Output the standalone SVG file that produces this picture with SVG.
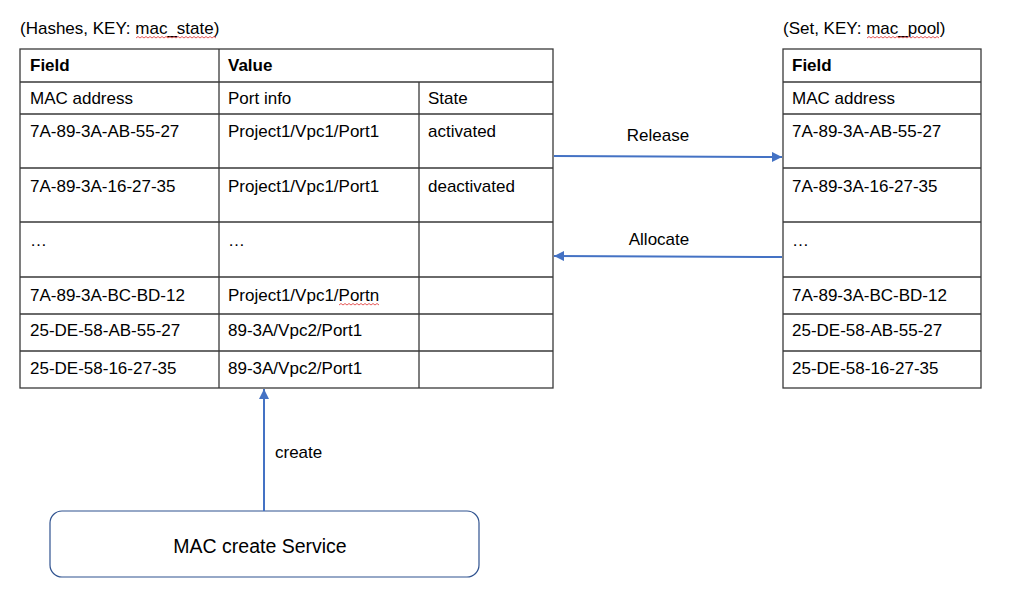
<svg xmlns="http://www.w3.org/2000/svg" width="1019" height="590" viewBox="0 0 1019 590">
<defs>
<style>
text{font-family:"Liberation Sans",Arial,sans-serif;font-size:17px;fill:#000}
.b{font-weight:bold}
.grid{stroke:#3a3a3a;stroke-width:1.3;fill:none}
.conn{stroke:#4472C4;stroke-width:2;fill:none}
.sq{stroke:#e03030;stroke-width:0.8;fill:none}
</style>
<marker id="ah" viewBox="0 0 10 10" refX="10" refY="5" markerWidth="5" markerHeight="5" orient="auto" markerUnits="strokeWidth">
<path d="M0,0 L10,5 L0,10 z" fill="#4472C4"/>
</marker>
</defs>
<rect width="1019" height="590" fill="#fff"/>

<g id="hash-table">
<text x="20" y="34">(Hashes, KEY: mac_state)</text>
<path class="sq" d="M136,38 l2,-1.5 l2,1.5 l2,-1.5 l2,1.5 l2,-1.5 l2,1.5 l2,-1.5 l2,1.5 l2,-1.5 l2,1.5 l2,-1.5 l2,1.5 l2,-1.5 l2,1.5 l2,-1.5 l2,1.5 l2,-1.5 l2,1.5 l2,-1.5 l2,1.5 l2,-1.5 l2,1.5 l2,-1.5 l2,1.5 l2,-1.5 l2,1.5 l2,-1.5 l2,1.5 l2,-1.5 l2,1.5 l2,-1.5 l2,1.5 l2,-1.5 l2,1.5 l2,-1.5 l2,1.5 l2,-1.5 l2,1.5 l2,-1.5 l2,1.5"/>
<rect class="grid" x="20" y="49" width="533" height="339"/>
<path class="grid" d="M20,82H553 M20,114H553 M20,168H553 M20,222H553 M20,277H553 M20,314H553 M20,351H553 M219,49V388 M419,82V388"/>
<text class="b" x="30" y="71">Field</text>
<text class="b" x="228" y="71">Value</text>
<text x="30" y="104">MAC address</text>
<text x="228" y="104">Port info</text>
<text x="428" y="104">State</text>
<text x="30" y="137">7A-89-3A-AB-55-27</text>
<text x="228" y="137">Project1/Vpc1/Port1</text>
<text x="428" y="137">activated</text>
<text x="30" y="192">7A-89-3A-16-27-35</text>
<text x="228" y="192">Project1/Vpc1/Port1</text>
<text x="428" y="192">deactivated</text>
<text x="30" y="246">…</text>
<text x="228" y="246">…</text>
<text x="30" y="301">7A-89-3A-BC-BD-12</text>
<text x="228" y="301">Project1/Vpc1/Portn</text>
<path class="sq" d="M339,305 l2,-1.5 l2,1.5 l2,-1.5 l2,1.5 l2,-1.5 l2,1.5 l2,-1.5 l2,1.5 l2,-1.5 l2,1.5 l2,-1.5 l2,1.5 l2,-1.5 l2,1.5 l2,-1.5 l2,1.5 l2,-1.5 l2,1.5 l2,-1.5 l2,1.5"/>
<text x="30" y="336">25-DE-58-AB-55-27</text>
<text x="228" y="336">89-3A/Vpc2/Port1</text>
<text x="30" y="374">25-DE-58-16-27-35</text>
<text x="228" y="374">89-3A/Vpc2/Port1</text>
</g>

<g id="pool-set">
<text x="783" y="34">(Set, KEY: mac_pool)</text>
<path class="sq" d="M867,38 l2,-1.5 l2,1.5 l2,-1.5 l2,1.5 l2,-1.5 l2,1.5 l2,-1.5 l2,1.5 l2,-1.5 l2,1.5 l2,-1.5 l2,1.5 l2,-1.5 l2,1.5 l2,-1.5 l2,1.5 l2,-1.5 l2,1.5 l2,-1.5 l2,1.5 l2,-1.5 l2,1.5 l2,-1.5 l2,1.5 l2,-1.5 l2,1.5 l2,-1.5 l2,1.5 l2,-1.5 l2,1.5 l2,-1.5 l2,1.5 l2,-1.5 l2,1.5 l2,-1.5 l2,1.5"/>
<rect class="grid" x="783" y="49" width="198" height="339"/>
<path class="grid" d="M783,82H981 M783,114H981 M783,168H981 M783,222H981 M783,277H981 M783,314H981 M783,351H981"/>
<text class="b" x="792" y="71">Field</text>
<text x="792" y="104">MAC address</text>
<text x="792" y="137">7A-89-3A-AB-55-27</text>
<text x="792" y="192">7A-89-3A-16-27-35</text>
<text x="792" y="246">…</text>
<text x="792" y="301">7A-89-3A-BC-BD-12</text>
<text x="792" y="336">25-DE-58-AB-55-27</text>
<text x="792" y="374">25-DE-58-16-27-35</text>
</g>

<g id="mac-create-service">
<rect x="50" y="511" width="429" height="66" rx="12" ry="12" fill="#fff" stroke="#2F528F" stroke-width="1.2"/>
<text x="260" y="553" text-anchor="middle" style="font-size:19.5px">MAC create Service</text>
</g>

<g id="connectors">
<path class="conn" d="M554,156 L782,157" marker-end="url(#ah)"/>
<text x="658" y="141" text-anchor="middle">Release</text>
<path class="conn" d="M782,257 L554,256" marker-end="url(#ah)"/>
<text x="659" y="245" text-anchor="middle">Allocate</text>
<path class="conn" d="M264,511 V389" marker-end="url(#ah)"/>
<text x="275" y="458">create</text>
</g>
</svg>
